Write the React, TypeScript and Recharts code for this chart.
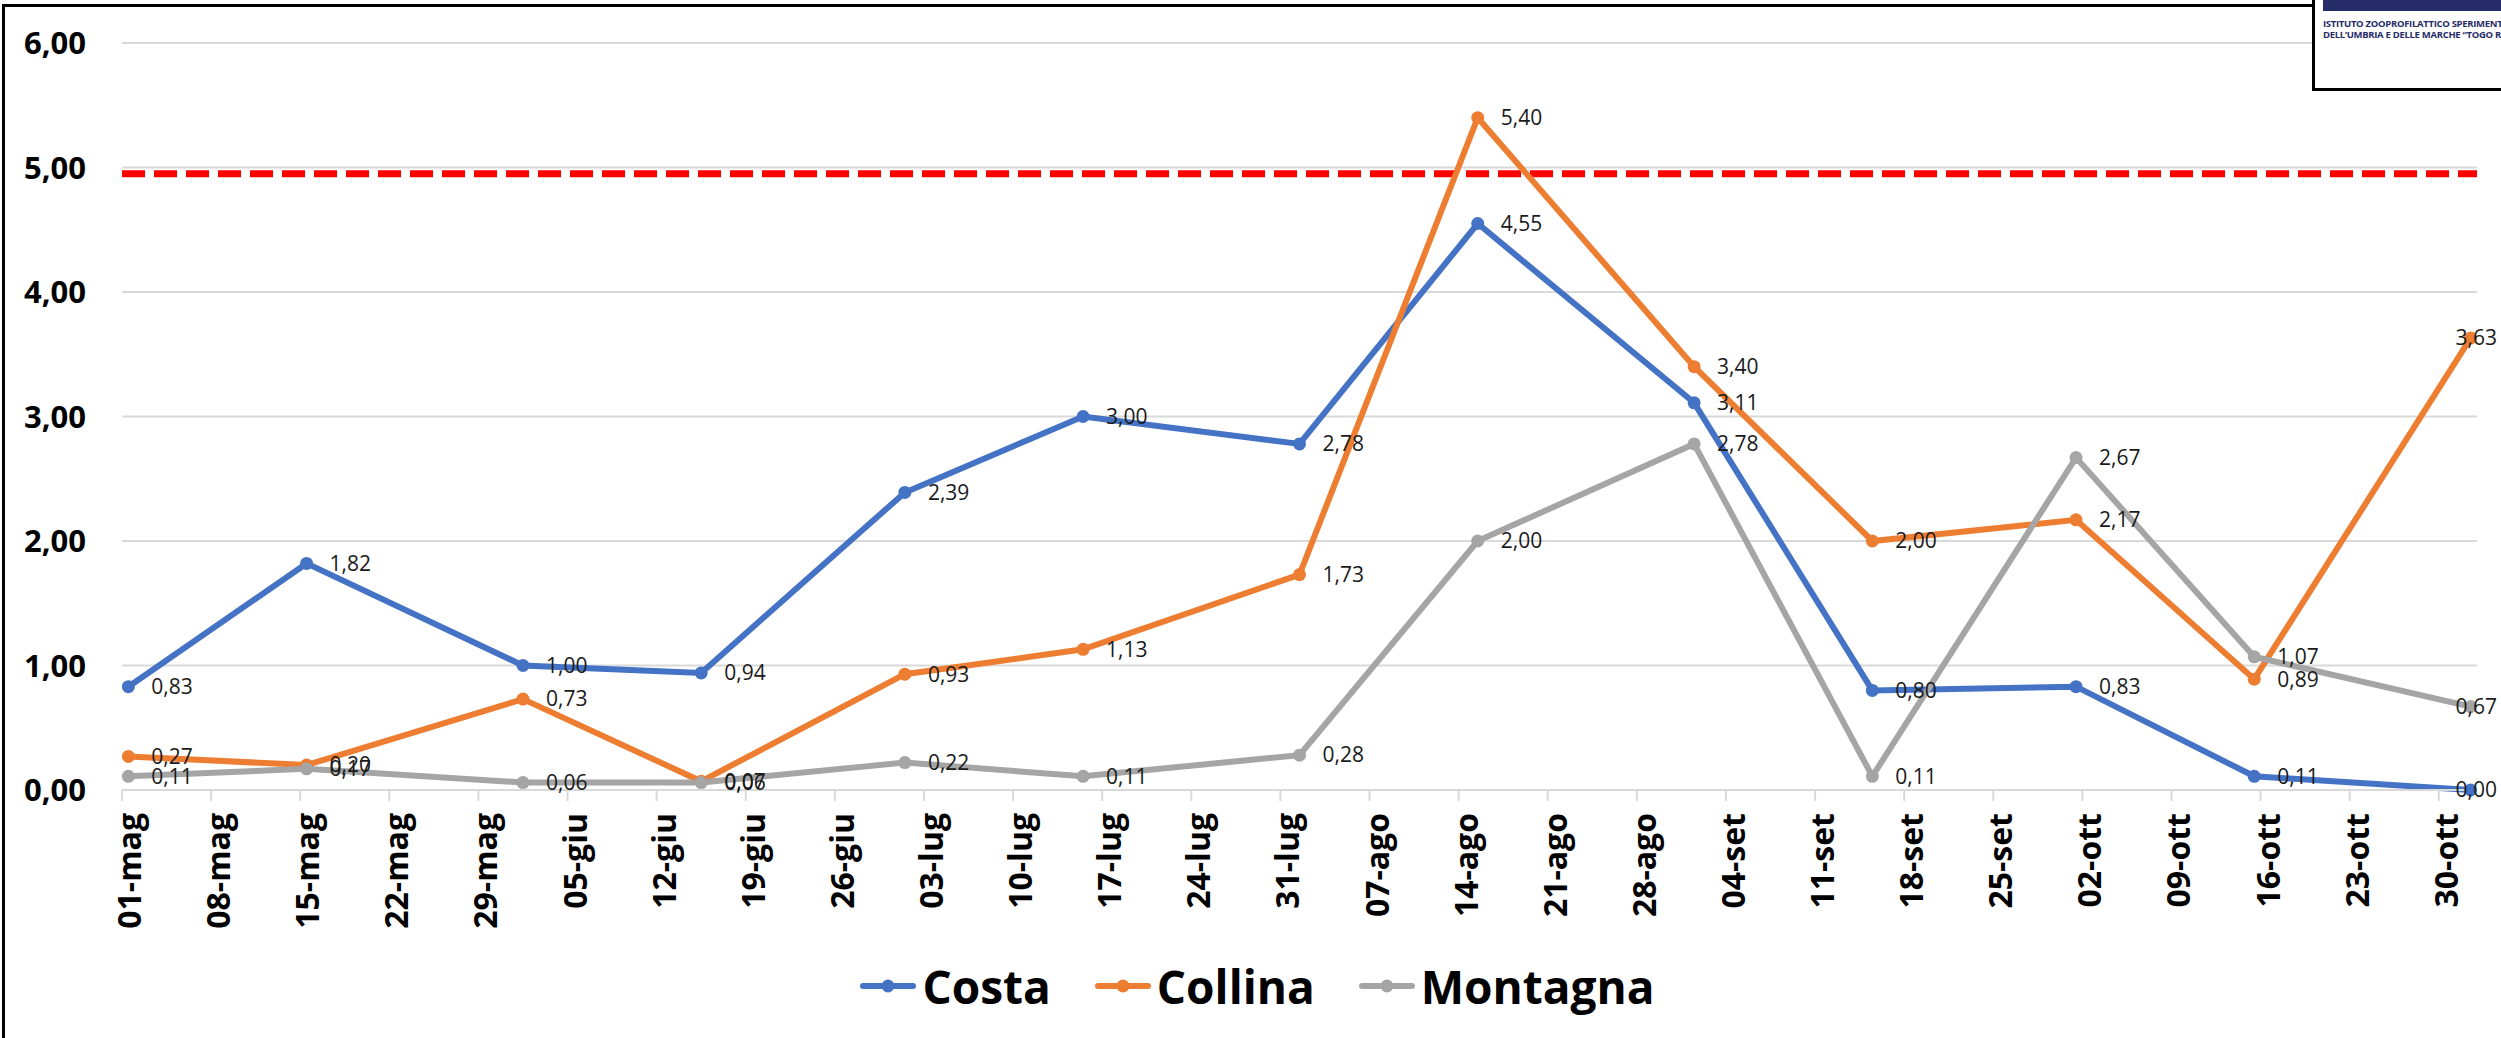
import React from "react";
import { CartesianGrid, LabelList, Legend, Line, LineChart, ReferenceLine, XAxis, YAxis } from "recharts";

// giorno 0 = 01-mag
const MONTH_START: Record<string, number> = { mag: 0, giu: 31, lug: 61, ago: 92, set: 123, ott: 153, nov: 184 };
const dayOf = (d: string) => {
  const [dd, mm] = d.split("-");
  return MONTH_START[mm] + Number(dd) - 1;
};

const pointDates = ["01-mag", "15-mag", "01-giu", "15-giu", "01-lug", "15-lug", "01-ago", "15-ago", "01-set", "15-set", "01-ott", "15-ott", "01-nov"];
const costa = [0.83, 1.82, 1.0, 0.94, 2.39, 3.0, 2.78, 4.55, 3.11, 0.8, 0.83, 0.11, 0.0];
const collina = [0.27, 0.2, 0.73, 0.07, 0.93, 1.13, 1.73, 5.4, 3.4, 2.0, 2.17, 0.89, 3.63];
const montagna = [0.11, 0.17, 0.06, 0.06, 0.22, 0.11, 0.28, 2.0, 2.78, 0.11, 2.67, 1.07, 0.67];

const tickLabels = [
  "01-mag", "08-mag", "15-mag", "22-mag", "29-mag", "05-giu", "12-giu", "19-giu", "26-giu",
  "03-lug", "10-lug", "17-lug", "24-lug", "31-lug", "07-ago", "14-ago", "21-ago", "28-ago",
  "04-set", "11-set", "18-set", "25-set", "02-ott", "09-ott", "16-ott", "23-ott", "30-ott",
];
const yTicks = [0, 1, 2, 3, 4, 5, 6];
const LIMIT = 4.95;

const tickDays = tickLabels.map(dayOf);

// excel date axis: the point sits in the middle of its day
const data = pointDates.map((d, i) => ({
  x: dayOf(d) + 0.5,
  costa: costa[i],
  collina: collina[i],
  montagna: montagna[i],
}));

const series = [
  { key: "costa", name: "Costa", color: "#4472C4" },
  { key: "collina", name: "Collina", color: "#ED7D31" },
  { key: "montagna", name: "Montagna", color: "#A5A5A5" },
];

const W = 2501;
const H = 1038;
const FONT = "'Open Sans', 'Liberation Sans', sans-serif";
const LABEL_EDGE = 2497;

const fmt = (v: number) => v.toFixed(2).replace(".", ",");

function DateTick(props: any) {
  const { x, y, payload } = props;
  const idx = tickDays.indexOf(payload.value);
  return (
    <g transform={`translate(${x},${y})`}>
      <text transform="rotate(-90)" textAnchor="end" dy={19} fontFamily={FONT} fontWeight={700} fontSize={32} fill="#000">
        {tickLabels[idx]}
      </text>
    </g>
  );
}

function ValueLabel(props: any) {
  const x = props.x ?? props.viewBox?.x;
  const y = props.y ?? props.viewBox?.y;
  if (x == null || y == null) return null;
  const nearEdge = x + 23 + 44 > LABEL_EDGE;
  return (
    <text
      x={nearEdge ? LABEL_EDGE : x + 23}
      y={y}
      dy="0.35em"
      textAnchor={nearEdge ? "end" : "start"}
      fontFamily={FONT}
      fontSize={21}
      fill="#1a1a1a"
    >
      {fmt(props.value)}
    </text>
  );
}

function LegendContent() {
  return (
    <div style={{ display: "flex", justifyContent: "center", alignItems: "center", height: 72, paddingLeft: 14 }}>
      {series.map((s, i) => (
        <div key={s.key} style={{ display: "flex", alignItems: "center", marginRight: i < series.length - 1 ? 44 : 0 }}>
          <svg width={56} height={20} style={{ marginRight: 6 }}>
            <line x1={3} y1={10} x2={53} y2={10} stroke={s.color} strokeWidth={6} strokeLinecap="round" />
            <circle cx={28} cy={10} r={6.5} fill={s.color} />
          </svg>
          <span style={{ fontFamily: FONT, fontWeight: 700, fontSize: 46, color: "#000", lineHeight: "72px" }}>{s.name}</span>
        </div>
      ))}
    </div>
  );
}

export default function App() {
  return (
    <div style={{ position: "relative", width: W, height: H, overflow: "hidden", background: "#fff" }}>
      <style>{`body{margin:0;}`}</style>
      <div
        style={{
          position: "absolute",
          left: 2,
          top: 4,
          width: 2600,
          height: 1200,
          border: "3px solid #000",
        }}
      />
      <div style={{ position: "absolute", left: 0, top: 0 }}>
        <LineChart width={W} height={H} data={data} margin={{ top: 43, right: 24, left: 0, bottom: 16 }}>
          <CartesianGrid horizontal vertical={false} stroke="#D9D9D9" strokeWidth={2} />
          <XAxis
            type="number"
            dataKey="x"
            domain={[0, 185]}
            ticks={tickDays}
            interval={0}
            height={160}
            tick={<DateTick />}
            tickSize={11}
            tickMargin={12}
            tickLine={{ stroke: "#D9D9D9", strokeWidth: 2 }}
            axisLine={{ stroke: "#D9D9D9", strokeWidth: 2 }}
          />
          <YAxis
            type="number"
            domain={[0, 6]}
            ticks={yTicks}
            width={122}
            axisLine={false}
            tickLine={false}
            tickSize={0}
            tickMargin={36}
            tickFormatter={fmt}
            tick={{ fontFamily: FONT, fontWeight: 700, fontSize: 31, fill: "#000" }}
          />
          <ReferenceLine y={LIMIT} stroke="#FF0000" strokeWidth={7} strokeDasharray="23 9" />
          {series.map((s) => (
            <Line
              key={s.key}
              type="linear"
              dataKey={s.key}
              name={s.name}
              stroke={s.color}
              strokeWidth={6}
              dot={{ r: 6.5, fill: s.color, stroke: s.color, strokeWidth: 0 }}
              activeDot={false}
              isAnimationActive={false}
            >
              <LabelList dataKey={s.key} content={<ValueLabel />} />
            </Line>
          ))}
          <Legend
            verticalAlign="bottom"
            content={<LegendContent />}
            wrapperStyle={{ left: 0, width: W, height: 72, bottom: 16 }}
          />
        </LineChart>
      </div>
      <div
        style={{
          position: "absolute",
          left: 2312,
          top: -3,
          width: 200,
          height: 88,
          border: "3px solid #000",
          background: "#fff",
          overflow: "hidden",
        }}
      >
        <div style={{ position: "absolute", left: 8, top: 0, right: 0, height: 11, background: "#262C68" }} />
        <div
          style={{
            position: "absolute",
            left: 8,
            top: 18,
            whiteSpace: "nowrap",
            fontFamily: FONT,
            fontWeight: 700,
            fontSize: 9.5,
            lineHeight: "11px",
            color: "#262C68",
            letterSpacing: -0.3,
          }}
        >
          <div>ISTITUTO ZOOPROFILATTICO SPERIMENTALE</div>
          <div>DELL’UMBRIA E DELLE MARCHE “TOGO ROSATI”</div>
        </div>
      </div>
    </div>
  );
}
